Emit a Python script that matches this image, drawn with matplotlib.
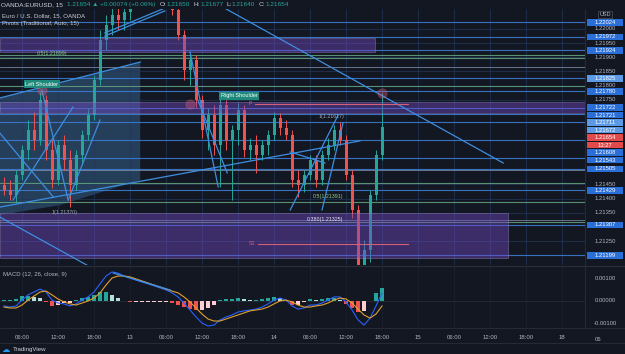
import numpy as np
import matplotlib
matplotlib.use('Agg')
import matplotlib.pyplot as plt
from matplotlib.patches import Rectangle, Polygon
from matplotlib.transforms import blended_transform_factory as blend

plt.rcParams['font.family'] = ['Liberation Sans', 'DejaVu Sans']

# x = hours since 12 Jan 00:00 (one candle per hour)
hours = np.arange(3, 67)
opens = [1.21448, 1.21431, 1.21413, 1.21484, 1.21572, 1.21643, 1.21607, 1.21749, 1.21572, 1.21466,
         1.21590, 1.21537, 1.21448, 1.21554, 1.21625, 1.21696, 1.21820, 1.21961, 1.22014, 1.22050,
         1.22032, 1.22060, 1.22120, 1.22191, 1.22226, 1.22209, 1.22173, 1.22138, 1.22103, 1.22067,
         1.21979, 1.21855, 1.21890, 1.21749, 1.21643, 1.21696, 1.21590, 1.21731, 1.21607, 1.21643,
         1.21713, 1.21572, 1.21590, 1.21554, 1.21590, 1.21625, 1.21685, 1.21650, 1.21625, 1.21466,
         1.21448, 1.21484, 1.21537, 1.21466, 1.21554, 1.21590, 1.21643, 1.21607, 1.21484, 1.21360,
         1.21165, 1.21218, 1.21413, 1.21554]
highs = [1.21477, 1.21466, 1.21501, 1.21590, 1.21678, 1.21706, 1.21777, 1.21767, 1.21607, 1.21607,
         1.21625, 1.21572, 1.21572, 1.21643, 1.21721, 1.21837, 1.21996, 1.22050, 1.22074, 1.22085,
         1.22092, 1.22138, 1.22209, 1.22262, 1.22279, 1.22262, 1.22226, 1.22173, 1.22138, 1.22085,
         1.21996, 1.21919, 1.21908, 1.21767, 1.21721, 1.21731, 1.21759, 1.21749, 1.21660, 1.21738,
         1.21731, 1.21614, 1.21625, 1.21607, 1.21643, 1.21706, 1.21703, 1.21678, 1.21643, 1.21501,
         1.21501, 1.21554, 1.21554, 1.21572, 1.21614, 1.21660, 1.21671, 1.21625, 1.21501, 1.21377,
         1.21254, 1.21431, 1.21572, 1.21774]
lows = [1.21413, 1.21395, 1.21385, 1.21466, 1.21537, 1.21572, 1.21590, 1.21537, 1.21438, 1.21448,
        1.21501, 1.21372, 1.21431, 1.21519, 1.21607, 1.21678, 1.21802, 1.21926, 1.21979, 1.21996,
        1.21996, 1.22032, 1.22103, 1.22156, 1.22173, 1.22156, 1.22120, 1.22085, 1.22050, 1.21961,
        1.21820, 1.21802, 1.21721, 1.21614, 1.21572, 1.21554, 1.21441, 1.21572, 1.21395, 1.21590,
        1.21547, 1.21537, 1.21491, 1.21537, 1.21554, 1.21607, 1.21625, 1.21607, 1.21441, 1.21406,
        1.21423, 1.21466, 1.21441, 1.21448, 1.21537, 1.21572, 1.21590, 1.21466, 1.21332, 1.21130,
        1.21112, 1.21176, 1.21395, 1.21537]
closes = [1.21431, 1.21413, 1.21484, 1.21572, 1.21643, 1.21607, 1.21749, 1.21572, 1.21466, 1.21590,
          1.21537, 1.21448, 1.21554, 1.21625, 1.21696, 1.21820, 1.21961, 1.22014, 1.22050, 1.22032,
          1.22060, 1.22120, 1.22191, 1.22226, 1.22209, 1.22173, 1.22138, 1.22103, 1.22067, 1.21979,
          1.21855, 1.21890, 1.21749, 1.21643, 1.21696, 1.21590, 1.21731, 1.21607, 1.21643, 1.21713,
          1.21572, 1.21590, 1.21554, 1.21590, 1.21625, 1.21685, 1.21650, 1.21625, 1.21466, 1.21448,
          1.21484, 1.21537, 1.21466, 1.21554, 1.21590, 1.21643, 1.21607, 1.21484, 1.21360, 1.21165,
          1.21218, 1.21413, 1.21554, 1.21654]

# MACD (12, 26, close, 9), values in 1e-5
macd_v = [-22, -27, -22, 4, 27, 40, 53, 40, 4, -9, -13, -22, -13, 4, 18, 40, 76, 111, 129, 124,
          111, 102, 93, 84, 76, 67, 58, 49, 36, 18, -9, -40, -71, -98, -111, -107, -84, -71, -62, -49,
          -44, -40, -36, -27, -13, 4, 13, 4, -22, -36, -31, -18, -18, -9, 4, 18, 18, -4, -40, -84,
          -107, -76, -22, 36]
signal_v = [-27, -31, -31, -18, 4, 22, 40, 44, 27, 9, -4, -13, -18, -9, 0, 13, 36, 71, 102, 111,
            111, 107, 98, 89, 80, 71, 62, 53, 44, 36, 18, -4, -31, -58, -80, -89, -89, -80, -71, -62,
            -53, -44, -40, -36, -27, -13, 0, 4, -4, -18, -27, -27, -22, -18, -9, 4, 13, 9, -9, -36,
            -62, -76, -58, -22]
hist_v = [4, 4, 9, 22, 22, 18, 13, -4, -22, -18, -9, -9, 4, 13, 18, 27, 40, 40, 27, 13,
          0, -4, -4, -4, -4, -4, -4, -4, -9, -18, -27, -36, -40, -40, -31, -18, 4, 9, 9, 13,
          9, 4, 4, 9, 13, 18, 13, 0, -18, -18, -4, 9, 4, 9, 13, 13, 4, -13, -31, -49,
          -44, 0, 36, 58]

# drawings on the chart
blue_levels = [1.22024, 1.21972, 1.21924, 1.21825, 1.21780, 1.21722, 1.21700, 1.21672, 1.21608,
               1.21543, 1.21505, 1.21429, 1.21307, 1.21199]
green_levels = [1.21908, 1.21897, 1.21798, 1.21455, 1.21388, 1.21317]
grey_levels = [1.21865, 1.21501, 1.21325]
purple_boxes = [(2.3, 64.8, 1.21919, 1.21968), (2.3, 100, 1.21703, 1.21742), (2.3, 87.0, 1.21190, 1.21349)]
trend_lines = [((37.3, 1.22103), (86.2, 1.21526)), ((2.3, 1.21370), (62.3, 1.21604)),
               ((2.3, 1.21756), (25.7, 1.21883)), ((19.8, 1.21986), (29.8, 1.22074)),
               ((19.8, 1.21975), (29.8, 1.22064)), ((34.0, 1.21919), (38.7, 1.21441)),
               ((35.3, 1.21749), (40.2, 1.21491)), ((9.3, 1.21784), (13.7, 1.21395)),
               ((13.7, 1.21395), (19.0, 1.21678)), ((4.5, 1.21395), (14.5, 1.21724)),
               ((2.3, 1.21632), (11.2, 1.21406)), ((2.3, 1.21335), (16.8, 1.21165)),
               ((50.7, 1.21360), (58.7, 1.21696)), ((56.0, 1.21360), (59.5, 1.21668)),
               ((50.7, 1.21565), (56.5, 1.21526))]
pivot_p, pivot_s1 = 1.21735, 1.21240
box_labels = [1.22024, 1.21972, 1.21924, 1.21825, 1.21780, 1.21722, 1.21721, 1.21711, 1.21672,
              1.21608, 1.21543, 1.21505, 1.21429, 1.21307, 1.21199]
light_labels = [1.21825, 1.21711, 1.21672]
grid_labels = [1.22000, 1.21950, 1.21900, 1.21850, 1.21800, 1.21750, 1.21450, 1.21400, 1.21350, 1.21250]
time_ticks = [6, 12, 18, 24, 30, 36, 42, 48, 54, 60, 66, 72, 78, 84, 90, 96, 102]
time_labels = ['06:00', '12:00', '18:00', '13', '06:00', '12:00', '18:00', '14', '06:00', '12:00',
               '18:00', '15', '06:00', '12:00', '18:00', '18', '06']

W, H = 625, 354
BG = '#131722'
fig = plt.figure(figsize=(6.25, 3.54), dpi=100, facecolor=BG)


def px_box(x0, y0, x1, y1):
    return [x0 / W, 1 - y1 / H, (x1 - x0) / W, (y1 - y0) / H]


ax = fig.add_axes(px_box(0, 9, 585, 265))
ax.set_facecolor('#1b2d4b')
ax.set_xlim(2.33, 99.83)
ax.set_ylim(1.211652, 1.220707)
ax.axis('off')

# light blue shaded zone on the left
ax.add_patch(Polygon([(2.33, 1.21756), (25.7, 1.21883), (25.7, 1.21466), (12.3, 1.21377), (2.33, 1.21342)],
                     closed=True, facecolor='#4a92d0', alpha=0.33, lw=0, zorder=1))
for g in grid_labels:
    ax.axhline(g, color='#24375a', lw=0.5, zorder=1)
for t in time_ticks:
    ax.axvline(t, color='#22365a', lw=0.5, zorder=1)

for lv in blue_levels:
    ax.axhline(lv, color='#3b7bd0', lw=0.8, alpha=0.9, zorder=2)
for lv in green_levels:
    ax.axhline(lv, color='#5f9f7c', lw=0.8, alpha=0.9, zorder=2)
for lv in grey_levels:
    ax.axhline(lv, color='#8e9db8', lw=0.6, alpha=0.8, zorder=2)

# candles
o, h, l, c = map(np.array, (opens, highs, lows, closes))
cols = np.where(c >= o, '#26a69a', '#ef5350')
ax.vlines(hours, l, h, colors=cols, lw=0.7, zorder=3)
ax.bar(hours, np.maximum(np.abs(c - o), 0.00002), bottom=np.minimum(o, c), width=0.5,
       color=cols, lw=0, zorder=3)

for x0, x1, y0, y1 in purple_boxes:
    ax.add_patch(Rectangle((x0, y0), x1 - x0, y1 - y0, facecolor='#7048c0', alpha=0.45,
                           edgecolor='#9a8cc8', lw=0.6, zorder=3.5))

for (x0, y0), (x1, y1) in trend_lines:
    ax.plot([x0, x1], [y0, y1], color='#3d8ee0', lw=0.9, zorder=4)

# pivots
ax.plot([44.8, 70.3], [pivot_p, pivot_p], color='#d0607a', lw=0.8, zorder=4)
ax.plot([45.3, 70.3], [pivot_s1, pivot_s1], color='#d0607a', lw=0.8, zorder=4)
ax.text(44.3, pivot_p, 'P', color='#d0607a', fontsize=3.8, va='center', ha='right', zorder=5)
ax.text(44.8, pivot_s1, 'S1', color='#d0607a', fontsize=3.8, va='center', ha='right', zorder=5)

# fib level texts
ax.text(8.5, 1.21905, '0.5(1.21899)', color='#8fcf8f', fontsize=3.8, va='bottom', zorder=5)
ax.text(11.0, 1.21360, '1(1.21370)', color='#a0a8b8', fontsize=3.8, va='top', zorder=5)
ax.text(55.5, 1.21690, '1(1.21617)', color='#a0a8b8', fontsize=3.8, va='center', zorder=5)
ax.text(54.5, 1.21398, '0.5(1.21391)', color='#8fcf8f', fontsize=3.8, va='bottom', zorder=5)
ax.text(53.5, 1.21325, '0.380(1.21325)', color='#e6e6f0', fontsize=3.8, va='center', zorder=5)

# pattern labels
for x, y, s in [(9.3, 1.21805, 'Left Shoulder'), (42.2, 1.21763, 'Right Shoulder')]:
    ax.text(x, y, s, color='white', fontsize=4.0, ha='center', va='center', zorder=6,
            bbox=dict(boxstyle='square,pad=0.25', fc='#1f8a7c', ec='none'))
ax.scatter([66.0, 34.0, 9.3], [1.21774, 1.21735, 1.21784], s=45, facecolor='#e0607e', alpha=0.35,
           edgecolor='#e0607e', lw=0.6, zorder=5)

# MACD pane
am = fig.add_axes(px_box(0, 267, 585, 328))
am.set_facecolor(BG)
am.set_xlim(2.33, 99.83)
am.set_ylim(-0.0012, 0.00151)
for sp in am.spines.values():
    sp.set_visible(False)
am.tick_params(length=0, labelsize=4.3, labelcolor='#b2b5be', pad=5)
am.set_yticks([])
am.set_xticks(time_ticks[:-1])
am.set_xticklabels(time_labels[:-1])
am.text(time_ticks[-1], -0.14, time_labels[-1], transform=blend(am.transData, am.transAxes),
        fontsize=4.3, color='#b2b5be', ha='center', va='top', clip_on=False)
for t in time_ticks:
    am.axvline(t, color='#1e2230', lw=0.5, zorder=0)
am.axhline(0, color='#2a2e39', lw=0.5, zorder=0)
mv = np.array(macd_v) * 1e-5
sv = np.array(signal_v) * 1e-5
hv = np.array(hist_v) * 1e-5
prev = np.concatenate([[0], hv[:-1]])
hcol = np.where(hv >= 0, np.where(hv >= prev, '#26a69a', '#b2dfdb'),
                np.where(hv < prev, '#ef5350', '#ffcdd2'))
am.bar(hours, hv, width=0.8, color=hcol, lw=0, zorder=1)
am.plot(hours, mv, color='#2962ff', lw=0.8, zorder=2)
am.plot(hours, sv, color='#e0a030', lw=0.8, zorder=2)
am.plot([21.2, 30.7], [0.001244, 0.000489], color='#3d8ee0', lw=0.9, zorder=3)
am.text(0.005, 0.88, 'MACD (12, 26, close, 9)', transform=am.transAxes, fontsize=4.3,
        color='#b2b5be', va='center')

# separators
fig.add_artist(plt.Line2D([585 / W, 585 / W], [1 - 328 / H, 1 - 9 / H], color='#2a2e39', lw=0.6))
fig.add_artist(plt.Line2D([0, 1], [1 - 266 / H, 1 - 266 / H], color='#2a2e39', lw=0.8))
fig.add_artist(plt.Line2D([0, 1], [1 - 328 / H, 1 - 328 / H], color='#2a2e39', lw=0.6))
fig.add_artist(plt.Line2D([0, 1], [1 - 343 / H, 1 - 343 / H], color='#2a2e39', lw=0.6))

# price scale
axr = fig.add_axes(px_box(585, 9, 625, 265))
axr.set_ylim(ax.get_ylim())
axr.set_xlim(0, 1)
axr.axis('off')
px_price = (ax.get_ylim()[1] - ax.get_ylim()[0]) / 256.0
for g in grid_labels:
    axr.text(0.5, g, f'{g:.5f}', color='#b2b5be', fontsize=4.2, ha='center', va='center')

last_close = closes[-1]
items = [(p, f'{p:.5f}', '#5c9ae6' if p in light_labels else '#2a6fd8', False) for p in box_labels]
items.append((last_close, f'{last_close:.5f}', '#e2494b', True))
items.sort(key=lambda t: -t[0])
slots = []
pos = None
for p, s, col, is_last in items:
    y = p if pos is None else min(p, pos - 7.5 * px_price)
    slots.append((y, s, col))
    pos = y
    if is_last:
        # countdown to bar close sits under the last price
        pos = y - 7.5 * px_price
        slots.append((pos, '13:27', col))
for y, s, col in slots:
    axr.add_patch(Rectangle((0.04, y - 3.4 * px_price), 0.92, 6.8 * px_price, facecolor=col,
                            edgecolor='none', zorder=3))
    axr.text(0.5, y, s, color='white', fontsize=4.2, ha='center', va='center', zorder=4)
axr.text(0.5, 1.22050, 'USD', color='#b2b5be', fontsize=4.0, ha='center', va='center',
         bbox=dict(boxstyle='square,pad=0.2', fc='none', ec='#50535e', lw=0.5))

amr = fig.add_axes(px_box(585, 267, 625, 328))
amr.set_ylim(am.get_ylim())
amr.axis('off')
for v in [0.001, 0.0, -0.001]:
    amr.text(0.5, v, f'{v:.5f}', color='#b2b5be', fontsize=4.2, ha='center', va='center')

# header
last_t = fig.text(1 / W, 1 - 4.5 / H, 'OANDA:EURUSD, 15', color='#d1d4dc', fontsize=4.6, va='center')
for s, col, gap in [('1.21654 \u25b2 +0.00074 (+0.06%)', '#26a69a', 3), ('O:', '#d1d4dc', 3),
                    ('1.21650', '#26a69a', 0.5), ('H:', '#d1d4dc', 2), ('1.21677', '#26a69a', 0.5),
                    ('L:', '#d1d4dc', 2), ('1.21640', '#26a69a', 0.5), ('C:', '#d1d4dc', 2),
                    ('1.21654', '#26a69a', 0.5)]:
    last_t = ax.annotate(s, xy=(1, 0.5), xycoords=last_t, xytext=(gap, 0), textcoords='offset points',
                         color=col, fontsize=4.6, va='center', ha='left', annotation_clip=False)
fig.text(2 / W, 1 - 15.5 / H, 'Euro / U.S. Dollar, 15, OANDA', color='#c8cbd4', fontsize=4.4, va='center')
fig.text(2 / W, 1 - 23.5 / H, 'Pivots (Traditional, Auto, 15)', color='#c8cbd4', fontsize=4.4, va='center')

# footer
fig.text(2 / W, 1 - 349 / H, '\u2601', color='#2196f3', fontsize=6, va='center', family='DejaVu Sans')
fig.text(13 / W, 1 - 349 / H, 'TradingView', color='#d1d4dc', fontsize=4.4, va='center')

fig.savefig('out.png', dpi=100, facecolor=BG)
